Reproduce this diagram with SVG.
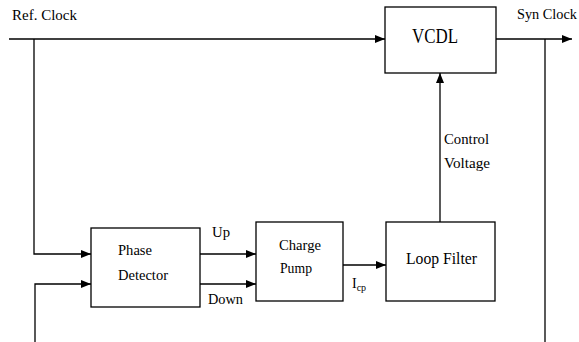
<svg xmlns="http://www.w3.org/2000/svg" width="579" height="342" viewBox="0 0 579 342">
<style>
.box{fill:#fff;stroke:#000;stroke-width:1.3}
.wire{fill:none;stroke:#000;stroke-width:1.3}
.t{font-family:Liberation Serif, Times New Roman, serif;fill:#000}
</style>
<defs>
<marker id="arr" markerUnits="userSpaceOnUse" markerWidth="11" markerHeight="9" refX="10" refY="4" orient="auto">
<path d="M0,0 L10,4 L0,8 z" fill="#000"/>
</marker>
</defs>
<rect width="579" height="342" fill="#fff"/>
<g id="connectors">
<path class="wire" d="M9,39 H385" marker-end="url(#arr)"/>
<path class="wire" d="M34,39 V254 H91" marker-end="url(#arr)"/>
<path class="wire" d="M35,342 V284 H91" marker-end="url(#arr)"/>
<path class="wire" d="M200,254 H256" marker-end="url(#arr)"/>
<path class="wire" d="M200,284 H256" marker-end="url(#arr)"/>
<path class="wire" d="M343,265 H386" marker-end="url(#arr)"/>
<path class="wire" d="M440,222 V73" marker-end="url(#arr)"/>
<path class="wire" d="M496,39 H572" marker-end="url(#arr)"/>
<path class="wire" d="M545,39 V342"/>
</g>
<g id="labels">
<text class="t" x="12" y="20" font-size="15" textLength="65" lengthAdjust="spacingAndGlyphs">Ref.  Clock</text>
<text class="t" x="517" y="19" font-size="14" textLength="60" lengthAdjust="spacingAndGlyphs">Syn Clock</text>
<text class="t" x="212" y="237" font-size="14" textLength="18" lengthAdjust="spacingAndGlyphs">Up</text>
<text class="t" x="208" y="304" font-size="14" textLength="35" lengthAdjust="spacingAndGlyphs">Down</text>
<text class="t" x="352" y="288" font-size="14">I<tspan font-size="10" dy="3">cp</tspan></text>
<text class="t" x="444" y="144" font-size="14" textLength="45" lengthAdjust="spacingAndGlyphs">Control</text>
<text class="t" x="444" y="168" font-size="14" textLength="46" lengthAdjust="spacingAndGlyphs">Voltage</text>
</g>
<g id="vcdl">
<rect class="box" x="385" y="7" width="111" height="66"/>
<text class="t" x="412" y="43" font-size="20" textLength="46" lengthAdjust="spacingAndGlyphs">VCDL</text>
</g>
<g id="phase-detector">
<rect class="box" x="91" y="228" width="109" height="79"/>
<text class="t" x="118" y="255" font-size="14" textLength="34" lengthAdjust="spacingAndGlyphs">Phase</text>
<text class="t" x="118" y="280" font-size="14" textLength="50" lengthAdjust="spacingAndGlyphs">Detector</text>
</g>
<g id="charge-pump">
<rect class="box" x="256" y="222" width="87" height="79"/>
<text class="t" x="279" y="250" font-size="14" textLength="42" lengthAdjust="spacingAndGlyphs">Charge</text>
<text class="t" x="280" y="273" font-size="14" textLength="32" lengthAdjust="spacingAndGlyphs">Pump</text>
</g>
<g id="loop-filter">
<rect class="box" x="386" y="222" width="109" height="79"/>
<text class="t" x="406" y="264" font-size="17" textLength="71" lengthAdjust="spacingAndGlyphs">Loop Filter</text>
</g>
</svg>
